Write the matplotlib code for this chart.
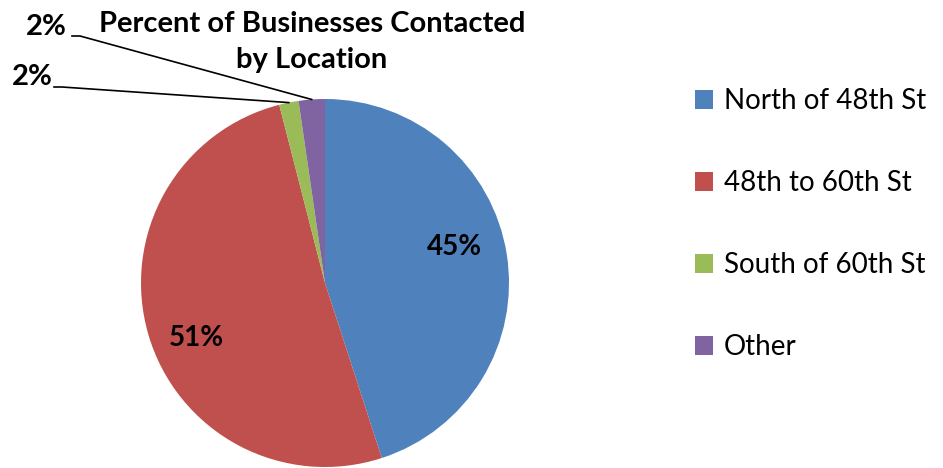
import numpy as np
import matplotlib
matplotlib.use("Agg")
import matplotlib.pyplot as plt

plt.rcParams['font.family'] = ['Lato', 'DejaVu Sans']

# data
categories = ["North of 48th St", "48th to 60th St", "South of 60th St", "Other"]
values = [45.0, 51.0, 1.7, 2.3]
colors = ["#4F81BD", "#C0504D", "#9BBB59", "#8064A2"]
title = "Percent of Businesses Contacted\nby Location"

W, H = 943, 468
fig = plt.figure(figsize=(W / 100, H / 100), dpi=100)
ax = fig.add_axes([0, 0, 1, 1])

cx, cy, r = 325, H - 283, 184
wedges, _ = ax.pie(values, colors=colors, startangle=90, counterclock=False,
                   center=(cx, cy), radius=r, frame=True,
                   wedgeprops=dict(linewidth=0))
ax.set_xlim(0, W)
ax.set_ylim(0, H)
ax.set_aspect("equal")
ax.axis("off")

# labels inside big slices, outside with leader lines for small ones
outside_text = {2: (32, H - 77), 3: (46, H - 27)}
outside_elbow = {2: (62, H - 87), 3: (80, H - 36)}
inside_shift = {0: (-3, 15), 1: (0, -18)}
for i, w in enumerate(wedges):
    mid = np.deg2rad((w.theta1 + w.theta2) / 2)
    lbl = f"{values[i]:.0f}%"
    if i in outside_text:
        ex, ey = cx + r * np.cos(mid), cy + r * np.sin(mid)
        bx, by = outside_elbow[i]
        ax.plot([bx - 8, bx, ex], [by, by, ey], color="black", lw=1.2)
        tx, ty = outside_text[i]
        ax.text(tx, ty, lbl, ha="center", va="center", fontsize=21, fontweight="bold")
    else:
        d = 0.73 * r
        sx, sy = inside_shift[i]
        ax.text(cx + d * np.cos(mid) + sx, cy + d * np.sin(mid) + sy, lbl,
                ha="center", va="center", fontsize=20, fontweight="bold")

ax.text(312, H - 42, title, ha="center", va="center", fontsize=21,
        fontweight="bold", linespacing=1.5)

leg = ax.legend(wedges, categories, loc="upper left", bbox_to_anchor=(695 / W, 1 - 88 / H),
                frameon=False, fontsize=20, handlelength=0.65, handleheight=0.65,
                handletextpad=0.4, labelspacing=2.02, borderpad=0, borderaxespad=0)

fig.savefig("out.png", dpi=100)
